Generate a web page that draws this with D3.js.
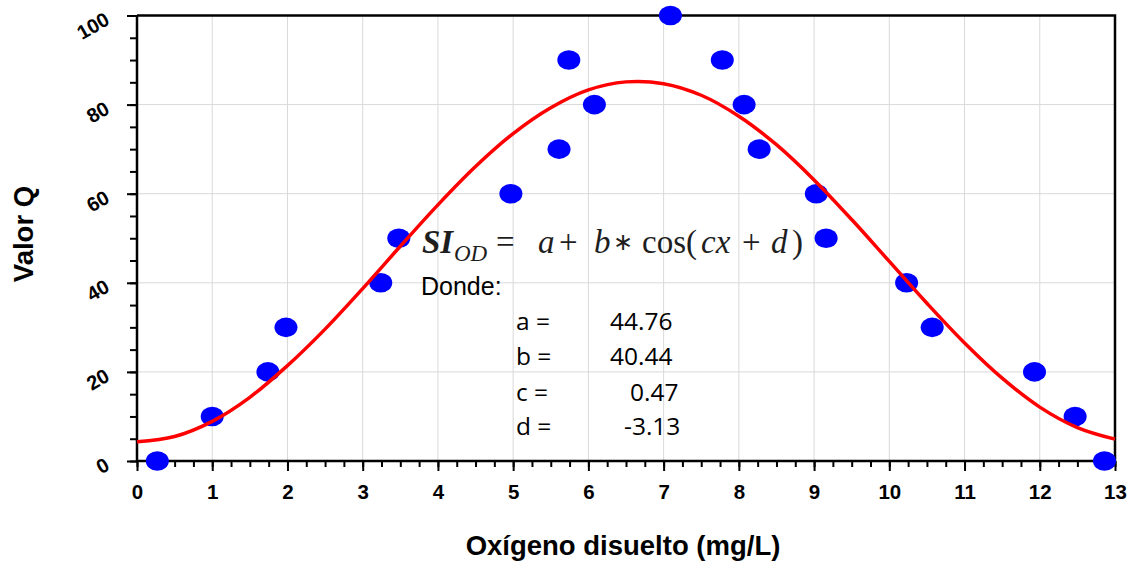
<!DOCTYPE html>
<html>
<head>
<meta charset="utf-8">
<script src="https://cdn.jsdelivr.net/npm/d3@7"></script>
<style>
  html, body { margin: 0; padding: 0; background: #fff; }
  svg { display: block; }
</style>
</head>
<body>
<div id="chart"></div>
<script>
// observed points (oxygen mg/L, Q value)
const oxygen = [0.27, 1.0, 1.74, 1.98, 3.24, 3.48, 4.97, 5.61, 5.74, 6.08, 7.09, 7.78, 8.07, 8.27, 9.03, 9.16, 10.23, 10.57, 11.93, 12.47, 12.86]
const qValue = [0, 10, 20, 30, 40, 50, 60, 70, 90, 80, 100, 90, 80, 70, 60, 50, 40, 30, 20, 10, 0]

// fitted curve
const curveX = [0, 0.5, 1, 1.5, 2, 2.5, 3, 3.5, 4, 4.5, 5, 5.5, 6, 6.5, 7, 7.5, 8, 8.5, 9, 9.5, 10, 10.5, 11, 11.5, 12, 12.5, 13]
const curveQ = [4.3, 5.5, 8.9, 14.3, 21.4, 29.6, 38.7, 48.2, 57.5, 66.1, 73.5, 79.3, 83.3, 85.1, 84.7, 82.1, 77.4, 71.0, 63.1, 54.2, 44.8, 35.4, 26.5, 18.6, 12.1, 7.5, 4.9]

// ticks
const xTickValues = [0, 1, 2, 3, 4, 5, 6, 7, 8, 9, 10, 11, 12, 13]
const yTickValues = [0, 20, 40, 60, 80, 100]

// equation parameters
const paramNames = ["a =", "b =", "c =", "d ="]
const paramValues = ["44.76", "40.44", "0.47", "-3.13"]

const width = 1131,
    height = 568,
    marginTop = 15.5, // top of the plot frame
    marginRight = 16, // right of the plot frame
    marginBottom = 107, // x axis sits here
    marginLeft = 137 // y axis sits here

const xScale = d3.scaleLinear([0, 13], [marginLeft, width - marginRight])
const yScale = d3.scaleLinear([0, 100], [height - marginBottom, marginTop])

const svg = d3.select("#chart")
    .append("svg")
    .attr("width", width)
    .attr("height", height)
    .attr("viewBox", [0, 0, width, height])

// grid lines
svg.append("g")
    .attr("stroke", "#d9d9d9")
    .attr("stroke-width", 1)
    .call(g => g.selectAll("line.vx")
        .data(xTickValues.slice(1, -1))
        .join("line")
        .attr("class", "vx")
        .attr("x1", d => xScale(d)).attr("x2", d => xScale(d))
        .attr("y1", yScale(0)).attr("y2", yScale(100)))
    .call(g => g.selectAll("line.hy")
        .data(yTickValues.slice(1, -1))
        .join("line")
        .attr("class", "hy")
        .attr("x1", xScale(0)).attr("x2", xScale(13))
        .attr("y1", d => yScale(d)).attr("y2", d => yScale(d)))

// frame: top and right
svg.append("path")
    .attr("fill", "none")
    .attr("stroke", "#000")
    .attr("stroke-width", 2.5)
    .attr("d", `M${xScale(0)},${yScale(100)}H${xScale(13)}V${yScale(0)}`)

// x axis
const xAxis = svg.append("g")
    .attr("transform", `translate(0,${yScale(0)})`)

xAxis.call(d3.axisBottom(xScale).tickValues(d3.range(0, 13.01, 0.25)).tickSize(6).tickFormat(""))
    .call(g => g.select(".domain").remove())
    .call(g => g.selectAll(".tick line").attr("stroke-width", 2))

xAxis.append("g")
    .call(d3.axisBottom(xScale).tickValues(xTickValues).tickSize(10).tickPadding(13))
    .call(g => g.select(".domain").attr("stroke-width", 2.5).attr("d", `M${xScale(0)},0H${xScale(13)}`))
    .call(g => g.selectAll(".tick line").attr("stroke-width", 2))
    .call(g => g.selectAll(".tick text")
        .attr("font-family", "Liberation Sans, Arial, sans-serif")
        .attr("font-weight", "bold")
        .attr("font-size", 20.5)
        .attr("fill", "#000"))

// y axis
const yAxis = svg.append("g")
    .attr("transform", `translate(${xScale(0)},0)`)

yAxis.call(d3.axisLeft(yScale).tickValues(d3.range(0, 101, 5)).tickSize(7).tickFormat(""))
    .call(g => g.select(".domain").remove())
    .call(g => g.selectAll(".tick line").attr("stroke-width", 2))

yAxis.append("g")
    .call(d3.axisLeft(yScale).tickValues(yTickValues).tickSize(10))
    .call(g => g.select(".domain").attr("stroke-width", 2.5).attr("d", `M0,${yScale(0)}V${yScale(100)}`))
    .call(g => g.selectAll(".tick line").attr("stroke-width", 2))
    .call(g => g.selectAll(".tick text")
        .attr("font-family", "Liberation Sans, Arial, sans-serif")
        .attr("font-weight", "bold")
        .attr("font-size", 20)
        .attr("fill", "#000")
        .attr("x", -26)
        .attr("y", 7.5)
        .attr("dy", 0)
        .attr("transform", "rotate(-30,-26,7.5)"))

// data points
svg.append("g")
    .attr("fill", "#0000ff")
    .selectAll("ellipse")
    .data(d3.range(oxygen.length))
    .join("ellipse")
    .attr("cx", i => xScale(oxygen[i]))
    .attr("cy", i => yScale(qValue[i]))
    .attr("rx", 11.5)
    .attr("ry", 9.8)

// fitted curve
const line = d3.line()
    .x(i => xScale(curveX[i]))
    .y(i => yScale(curveQ[i]))
    .curve(d3.curveCatmullRom)

svg.append("path")
    .datum(d3.range(curveX.length))
    .attr("fill", "none")
    .attr("stroke", "#ff0000")
    .attr("stroke-width", 3.5)
    .attr("d", line)

// equation
const eq = svg.append("text")
    .attr("y", 253)
    .attr("font-family", "Liberation Serif, Times New Roman, serif")
    .attr("font-size", 33)
    .attr("fill", "#1e1e1e")

const eqParts = [
    ["SI", 422, "bi"], ["OD", 454, "sub"], ["=", 496, ""], ["a", 538, "i"], ["+", 559, ""],
    ["b", 594, "i"], ["∗", 613, "op"], ["cos(", 642, ""], ["cx", 701, "i"], ["+", 742, ""],
    ["d", 771, "i"], [")", 792, ""]
]
eq.selectAll("tspan")
    .data(eqParts)
    .join("tspan")
    .attr("x", d => d[1])
    .attr("y", d => d[2] === "sub" ? 261 : d[2] === "op" ? 250 : 253)
    .attr("font-style", d => d[2] === "" || d[2] === "op" ? "normal" : "italic")
    .attr("font-weight", d => d[2] === "bi" ? "bold" : "normal")
    .attr("font-size", d => d[2] === "sub" ? 23 : d[2] === "op" ? 24 : 33)
    .text(d => d[0])

svg.append("text")
    .attr("x", 421)
    .attr("y", 295)
    .attr("font-family", "Liberation Sans, Arial, sans-serif")
    .attr("font-size", 25)
    .attr("fill", "#000")
    .text("Donde:")

const rowY = [330, 365, 401, 435]
svg.append("g")
    .attr("font-family", "Open Sans, sans-serif")
    .attr("font-size", 24.5)
    .attr("fill", "#000")
    .call(g => g.selectAll("text.n")
        .data(paramNames)
        .join("text")
        .attr("class", "n")
        .attr("x", 516)
        .attr("y", (d, i) => rowY[i])
        .text(d => d))
    .call(g => g.selectAll("text.v")
        .data(paramValues)
        .join("text")
        .attr("class", "v")
        .attr("x", (d, i) => [610, 610, 630, 624][i])
        .attr("y", (d, i) => rowY[i])
        .text(d => d))

// axis titles
svg.append("text")
    .attr("x", 623)
    .attr("y", 555)
    .attr("text-anchor", "middle")
    .attr("font-family", "Liberation Sans, Arial, sans-serif")
    .attr("font-weight", "bold")
    .attr("font-size", 27.5)
    .attr("fill", "#000")
    .text("Oxígeno disuelto (mg/L)")

svg.append("text")
    .attr("transform", "translate(33,234) rotate(-90)")
    .attr("text-anchor", "middle")
    .attr("font-family", "Liberation Sans, Arial, sans-serif")
    .attr("font-weight", "bold")
    .attr("font-size", 27.5)
    .attr("fill", "#000")
    .text("Valor Q")
</script>
</body>
</html>
